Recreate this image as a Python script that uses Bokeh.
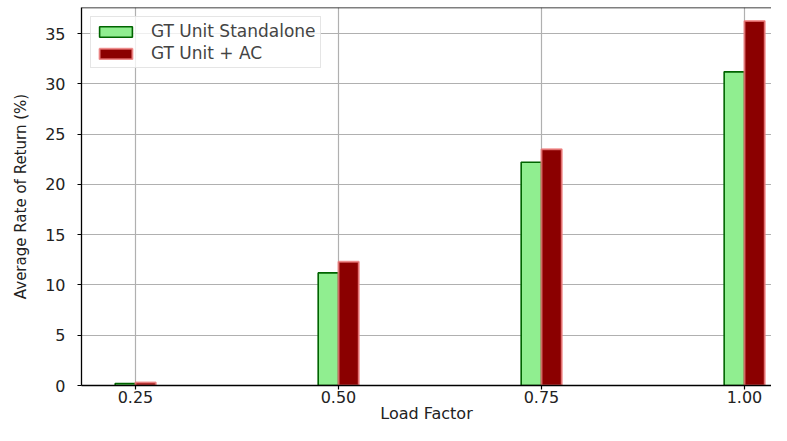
from bokeh.plotting import figure
from bokeh.models import ColumnDataSource, Range1d, Span, Legend, LegendItem, FixedTicker
from bokeh.transform import dodge
from bokeh.embed import file_html
from bokeh.resources import INLINE

load_factor = [0.25, 0.50, 0.75, 1.00]
standalone = [0.2, 11.2, 22.2, 31.2]
with_ac = [0.3, 12.3, 23.5, 36.25]
tick_labels = ["0.25", "0.50", "0.75", "1.00"]
series_names = ["GT Unit Standalone", "GT Unit + AC"]

src = ColumnDataSource(dict(x=load_factor, a=standalone, b=with_ac))

Y_END = 37.6
p = figure(width=771, height=425, output_backend="svg", toolbar_location=None,
           x_range=Range1d(0.1835, 1.0333), y_range=Range1d(0, Y_END),
           min_border_left=81, min_border_right=0, min_border_top=7, min_border_bottom=30)

bar_w = 0.025
r1 = p.vbar(x=dodge("x", -bar_w / 2), top="a", width=bar_w, source=src,
            fill_color="#90EE90", line_color="#006400", line_width=1.6)
r2 = p.vbar(x=dodge("x", bar_w / 2), top="b", width=bar_w, source=src,
            fill_color="#8B0000", line_color="#F08080", line_alpha=0.8, line_width=2)

p.outline_line_color = None
p.add_layout(Span(location=Y_END, dimension="width", line_color="black", line_width=1.3))

p.xaxis.ticker = FixedTicker(ticks=load_factor)
p.xaxis.major_label_overrides = {v: t for v, t in zip(load_factor, tick_labels)}
p.yaxis.ticker = FixedTicker(ticks=[0, 5, 10, 15, 20, 25, 30, 35])
p.xaxis.minor_tick_line_color = None
p.yaxis.minor_tick_line_color = None

for ax in (p.xaxis, p.yaxis):
    ax.axis_line_color = "black"
    ax.axis_line_width = 1.3
    ax.major_tick_line_color = "black"
    ax.major_tick_line_width = 1.2
    ax.major_tick_in = 0
    ax.major_tick_out = 4
    ax.major_label_text_font = "DejaVu Sans"
    ax.major_label_text_font_size = "16px"
    ax.major_label_text_color = "#222222"
    ax.axis_label_text_font_style = "normal"
    ax.axis_label_text_color = "#222222"

p.xaxis.axis_label = "Load Factor"
p.xaxis.axis_label_text_font = "DejaVu Sans"
p.xaxis.axis_label_text_font_size = "16px"
p.xaxis.axis_label_standoff = -2
p.xaxis.major_label_standoff = 1

p.yaxis.axis_label = "Average Rate of Return (%)"
p.yaxis.axis_label_text_font = "DejaVu Sans"
p.yaxis.axis_label_text_font_size = "15px"
p.yaxis.axis_label_standoff = 12
p.yaxis.major_label_standoff = 12

p.xgrid.grid_line_color = "#b0b0b0"
p.ygrid.grid_line_color = "#b0b0b0"
p.xgrid.grid_line_width = 1.2
p.ygrid.grid_line_width = 1.2

legend = Legend(items=[LegendItem(label=series_names[0], renderers=[r1]),
                       LegendItem(label=series_names[1], renderers=[r2])],
                location="top_left")
legend.margin = 9
legend.padding = 4
legend.spacing = 2
legend.glyph_width = 41
legend.glyph_height = 13
legend.label_standoff = 15
legend.label_text_font = "DejaVu Sans"
legend.label_text_font_size = "17px"
legend.label_height = 16
legend.border_line_color = "#cccccc"
legend.border_line_width = 1
legend.background_fill_alpha = 0.8
p.add_layout(legend)

open("out.html", "w").write(file_html(p, INLINE))
